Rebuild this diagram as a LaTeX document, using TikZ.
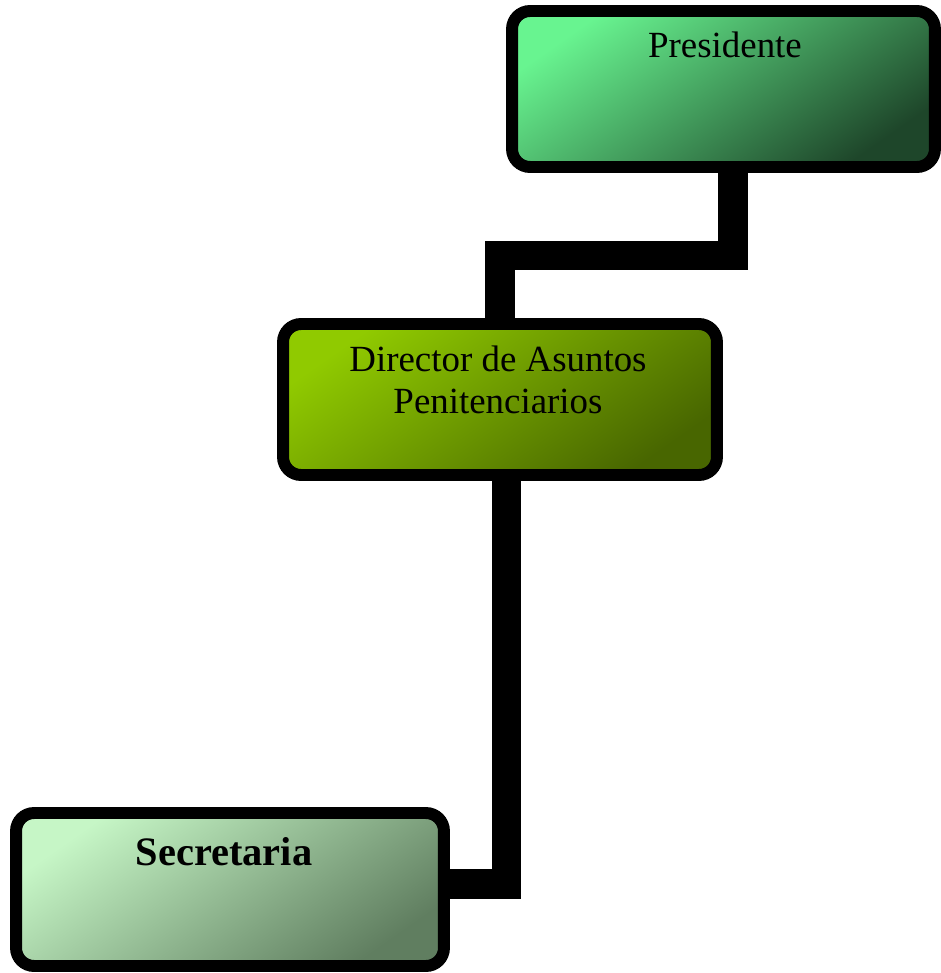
\documentclass[tikz,border=0pt]{standalone}
\usepackage{fontspec}
\setmainfont{Liberation Serif}

\definecolor{presLight}{RGB}{104,244,144}
\definecolor{presMid}{RGB}{78,200,118}
\definecolor{presDark}{RGB}{30,70,42}
\definecolor{dirLight}{RGB}{144,202,0}
\definecolor{dirMid}{RGB}{116,160,0}
\definecolor{dirDark}{RGB}{72,102,0}
\definecolor{secLight}{RGB}{198,246,198}
\definecolor{secMid}{RGB}{156,204,156}
\definecolor{secDark}{RGB}{96,126,96}

\begin{document}
\begin{tikzpicture}[x=0.02cm,y=-0.02cm,
    box/.style={draw=black,line width=6.8pt,rounded corners=0.36cm},
    link/.style={draw=black,line width=17pt},
    caption/.style={font=\fontsize{21}{23}\selectfont,align=center}]
    \tikzstyle{every node}+=[inner sep=0pt]
    \useasboundingbox (0,0) rectangle (940,973);
    \node [box,top color=presLight,middle color=presMid,bottom color=presDark,shading angle=35,
        minimum width=8.46cm,minimum height=3.12cm] (pres) at (723.5,89) {};
    \node [caption] (presT) at (725,44.5) {Presidente};
    \node [box,top color=dirLight,middle color=dirMid,bottom color=dirDark,shading angle=35,
        minimum width=8.68cm,minimum height=3.02cm] (dir) at (500,399.5) {};
    \node [caption] (dirT) at (498,380) {Director de Asuntos\\[1pt]Penitenciarios};
    \node [box,top color=secLight,middle color=secMid,bottom color=secDark,shading angle=35,
        minimum width=8.56cm,minimum height=3.06cm] (sec) at (230,889.5) {};
    \node [caption,font=\fontsize{23}{25}\selectfont\bfseries] (secT) at (224,851.5) {Secretaria};
    \coordinate (elbow) at (500,255.5);
    \draw [link] ([xshift=0.19cm]pres.south) |- (elbow) -- (dir.north);
    \draw [link] ([xshift=0.13cm]dir.south) |- ([yshift=0.11cm]sec.east);
\end{tikzpicture}
\end{document}
